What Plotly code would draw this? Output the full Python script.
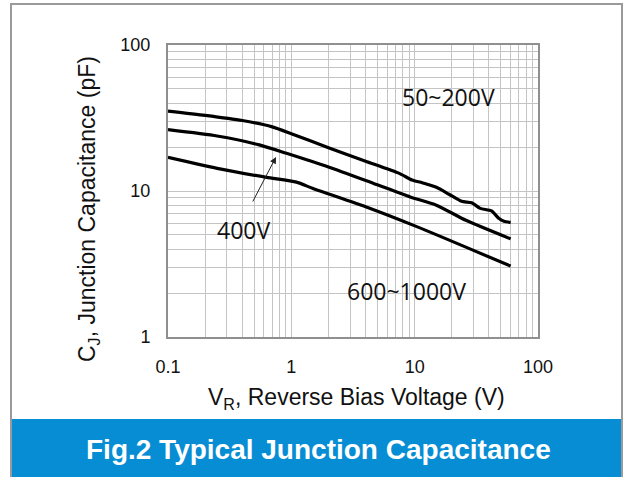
import plotly.graph_objects as go

# ---- data ----
v_50_200 = [0.1, 0.2, 0.4, 0.7, 1.0, 2.0, 4.0, 7.5, 9.5, 11.5, 15, 19, 24, 29, 34, 42, 48, 53, 60]
c_50_200 = [35.3, 33.0, 30.4, 27.5, 24.7, 19.8, 16.0, 13.2, 11.9, 11.4, 10.6, 9.5, 8.5, 8.3, 7.6, 7.3, 6.5, 6.2, 6.1]

v_400 = [0.1, 0.25, 0.55, 0.9, 2.0, 4.6, 9.2, 15, 26, 60]
c_400 = [26.3, 23.8, 20.7, 18.2, 14.6, 11.3, 9.1, 8.0, 6.3, 4.7]

v_600_1000 = [0.1, 0.25, 0.63, 1.1, 1.5, 4.0, 10.4, 60]
c_600_1000 = [17.0, 14.3, 12.4, 11.5, 10.4, 7.8, 5.7, 3.06]

x_tickvals = [0.1, 1, 10, 100]
x_ticktext = ["0.1", "1", "10", "100"]
y_tickvals = [1, 10, 100]
y_ticktext = ["1", "10", "100"]

labels = {"50~200V": "50~200V", "400V": "400V", "600~1000V": "600~1000V"}
title_text = "Fig.2 Typical Junction Capacitance"
x_title = "V<sub>R</sub>, Reverse Bias Voltage (V)"
y_title = "C<sub>J</sub>, Junction Capacitance (pF)"

W, H = 624, 477
L, R, T, B = 168, 538, 45, 337   # plot area in pixels


def px(x):
    return (x - L) / (R - L)


def py(y):
    return (B - y) / (B - T)


fig = go.Figure()
for v, c, name in [(v_50_200, c_50_200, "50~200V"), (v_400, c_400, "400V"),
                   (v_600_1000, c_600_1000, "600~1000V")]:
    fig.add_trace(go.Scatter(x=v, y=c, mode="lines", name=name,
                             line=dict(color="black", width=3.2, shape="spline", smoothing=0.6),
                             showlegend=False, hoverinfo="skip"))

grid_col = "#c4c4c4"
axis_common = dict(
    type="log", showgrid=True, gridcolor=grid_col, gridwidth=1.4,
    showline=True, linecolor="#8f8f8f", linewidth=2, mirror=True,
    ticks="", zeroline=False,
    tickfont=dict(family="Liberation Sans, Arial", size=18, color="#111"),
    minor=dict(dtick="D1", showgrid=True, gridcolor=grid_col, gridwidth=1.4, ticks=""),
)
fig.update_xaxes(range=[-1, 2], tickvals=x_tickvals, ticktext=x_ticktext,
                 ticklabelstandoff=12, **axis_common)
fig.update_yaxes(range=[0, 2], tickvals=y_tickvals, ticktext=y_ticktext,
                 ticklabelstandoff=12, **axis_common)

shapes = []
# outer frame
shapes.append(dict(type="rect", xref="paper", yref="paper",
                   x0=px(11), x1=px(622), y0=py(480), y1=py(4),
                   line=dict(color="#9a9a9a", width=2), fillcolor="rgba(0,0,0,0)", layer="below"))
# label boxes (white, cover grid)
for (x0, x1, y0, y1) in [(383, 515, 77, 113), (180, 307, 204, 245), (320, 493, 265, 307)]:
    shapes.append(dict(type="rect", xref="paper", yref="paper",
                       x0=px(x0), x1=px(x1), y0=py(y1), y1=py(y0),
                       line=dict(width=0), fillcolor="white", layer="between"))
# blue banner
shapes.append(dict(type="rect", xref="paper", yref="paper",
                   x0=px(12), x1=px(621), y0=py(478), y1=py(419),
                   line=dict(width=0), fillcolor="#078dd4", layer="above"))
fig.update_layout(shapes=shapes)

lab_font = dict(family="Open Sans, Noto Sans", size=23, color="#111")
ann = [
    dict(text=labels["50~200V"], x=px(448), y=py(97), font=lab_font),
    dict(text=labels["400V"], x=px(243), y=py(230.5), font=lab_font),
    dict(text=labels["600~1000V"], x=px(406.5), y=py(291), font=lab_font),
    dict(text=x_title, x=px(356.5), y=py(398),
         font=dict(family="Liberation Sans, Arial", size=23, color="#111")),
    dict(text=y_title, x=px(88), y=py(209), textangle=-90,
         font=dict(family="Liberation Sans, Arial", size=23, color="#111")),
    dict(text="<b>" + title_text + "</b>", x=px(318), y=py(449),
         font=dict(family="Liberation Sans, Arial", size=28, color="white")),
]
for a in ann:
    fig.add_annotation(xref="paper", yref="paper", showarrow=False,
                       xanchor="center", yanchor="middle", **a)
# arrow pointing to 400V curve
fig.add_annotation(xref="paper", yref="paper", x=px(276), y=py(157), text="",
                   showarrow=True, arrowhead=2, arrowsize=1.3, arrowwidth=1,
                   arrowcolor="#222", axref="pixel", ayref="pixel", ax=-24, ay=46)

fig.update_layout(width=W, height=H, margin=dict(l=L, r=W - R, t=T, b=H - B),
                  paper_bgcolor="white", plot_bgcolor="white")
fig.write_html("out.html", config={"displayModeBar": False},
               post_script="document.body.style.margin='0';document.body.style.overflow='hidden';")
